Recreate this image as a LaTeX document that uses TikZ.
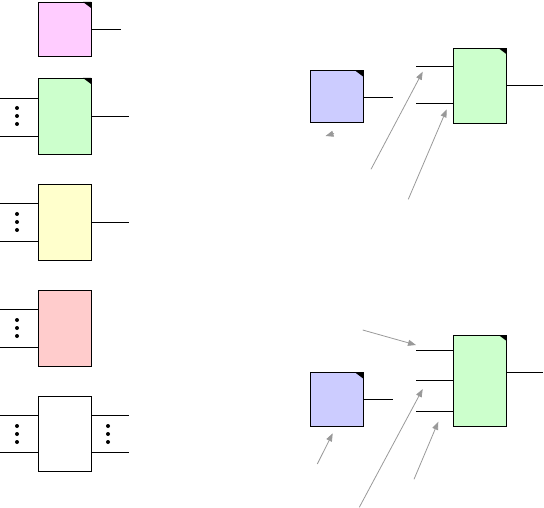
\documentclass[tikz,border=0pt]{standalone}
\usepackage{tikz}
\usetikzlibrary{arrows.meta}

\definecolor{pinkfill}{HTML}{FFCCFF}
\definecolor{greenfill}{HTML}{CCFFCC}
\definecolor{yellowfill}{HTML}{FFFFCC}
\definecolor{redfill}{HTML}{FFCCCC}
\definecolor{bluefill}{HTML}{CCCCFF}
\definecolor{pointergray}{HTML}{999999}

\newcommand{\cornermark}[1]{\fill (#1.north east) -- ++(-8,0) -- ++(8,6) -- cycle;}
\newcommand{\vdotsat}[1]{\foreach \dy in {-8,0,8} {\fill (#1) ++(0,\dy) circle (2);}}

\begin{document}
\begin{tikzpicture}[x=1pt,y=-1pt,
  block/.style={draw=black,line width=0.8pt,inner sep=0pt,outer sep=0pt,minimum width=53pt},
  port/.style={draw=black,line width=0.8pt},
  pointer/.style={draw=pointergray,line width=0.8pt,-{Triangle[length=8pt,width=6pt]}}]
\useasboundingbox (0,0) rectangle (544,508);
% left column
\node[block,fill=pinkfill,minimum height=54pt] (pink) at (64.5,29) {};
\node[block,fill=greenfill,minimum height=76pt] (green) at (64.5,116) {};
\node[block,fill=yellowfill,minimum height=76pt] (yellow) at (64.5,222) {};
\node[block,fill=redfill,minimum height=76pt] (red) at (64.5,328) {};
\node[block,fill=white,minimum height=75pt] (plain) at (64.5,433.5) {};
\cornermark{pink}
\cornermark{green}

\coordinate (pinkout) at (121,29);
\draw[port] (pinkout -| pink.east) -- (pinkout);

\coordinate (greenin1) at (0,98);
\coordinate (greenin2) at (0,136);
\coordinate (greenout) at (129,116);
\draw[port] (greenin1) -- (greenin1 -| green.west);
\draw[port] (greenin2) -- (greenin2 -| green.west);
\draw[port] (greenout -| green.east) -- (greenout);
\vdotsat{17,116}

\coordinate (yellowin1) at (0,203);
\coordinate (yellowin2) at (0,241);
\coordinate (yellowout) at (129,222);
\draw[port] (yellowin1) -- (yellowin1 -| yellow.west);
\draw[port] (yellowin2) -- (yellowin2 -| yellow.west);
\draw[port] (yellowout -| yellow.east) -- (yellowout);
\vdotsat{17,222}

\coordinate (redin1) at (0,309);
\coordinate (redin2) at (0,347);
\draw[port] (redin1) -- (redin1 -| red.west);
\draw[port] (redin2) -- (redin2 -| red.west);
\vdotsat{17,328}

\coordinate (plainin1) at (0,415);
\coordinate (plainin2) at (0,452);
\coordinate (plainout1) at (129,415);
\coordinate (plainout2) at (129,452);
\draw[port] (plainin1) -- (plainin1 -| plain.west);
\draw[port] (plainin2) -- (plainin2 -| plain.west);
\draw[port] (plainout1 -| plain.east) -- (plainout1);
\draw[port] (plainout2 -| plain.east) -- (plainout2);
\vdotsat{17,434}
\vdotsat{108,434}

% top right
\node[block,fill=bluefill,minimum width=52.6pt,minimum height=52pt] (bluetop) at (337,96.7) {};
\node[block,fill=greenfill,minimum width=53.3pt,minimum height=75pt] (greentop) at (480,85.8) {};
\cornermark{bluetop}
\cornermark{greentop}
\coordinate (bluetopout) at (393,97.3);
\draw[port] (bluetopout -| bluetop.east) -- (bluetopout);
\coordinate (greentopin1) at (416,66);
\coordinate (greentopin2) at (416,103.3);
\coordinate (greentopout) at (543,85);
\draw[port] (greentopin1) -- (greentopin1 -| greentop.west);
\draw[port] (greentopin2) -- (greentopin2 -| greentop.west);
\draw[port] (greentopout -| greentop.east) -- (greentopout);

\coordinate (tail1) at (371,169.3);
\coordinate (tail2) at (408.3,199.3);
\coordinate (tail3) at (334,133.5);
\coordinate (tip3) at (325.5,136);
\draw[pointer] (tail1) -- (422.7,71.7);
\draw[pointer] (tail2) -- (446.7,109.3);
\draw[pointer] (tail3) -- (tip3);

% bottom right
\node[block,fill=bluefill,minimum width=52.6pt,minimum height=53.3pt] (bluebot) at (337,399.3) {};
\node[block,fill=greenfill,minimum width=53.3pt,minimum height=91pt] (greenbot) at (480,380.5) {};
\cornermark{bluebot}
\cornermark{greenbot}
\coordinate (bluebotout) at (393,399.3);
\draw[port] (bluebotout -| bluebot.east) -- (bluebotout);
\coordinate (greenbotin1) at (416,350.7);
\coordinate (greenbotin2) at (416,380.7);
\coordinate (greenbotin3) at (416,411);
\coordinate (greenbotout) at (543,372.7);
\draw[port] (greenbotin1) -- (greenbotin1 -| greenbot.west);
\draw[port] (greenbotin2) -- (greenbotin2 -| greenbot.west);
\draw[port] (greenbotin3) -- (greenbotin3 -| greenbot.west);
\draw[port] (greenbotout -| greenbot.east) -- (greenbotout);

\coordinate (tail4) at (362.7,330);
\coordinate (tail5) at (359.3,507.3);
\coordinate (tail6) at (414,479.3);
\coordinate (tail7) at (317.3,464);
\draw[pointer] (tail4) -- (416,345);
\draw[pointer] (tail5) -- (422.7,389);
\draw[pointer] (tail6) -- (438.3,421.7);
\draw[pointer] (tail7) -- (332.7,433.3);
\end{tikzpicture}
\end{document}
